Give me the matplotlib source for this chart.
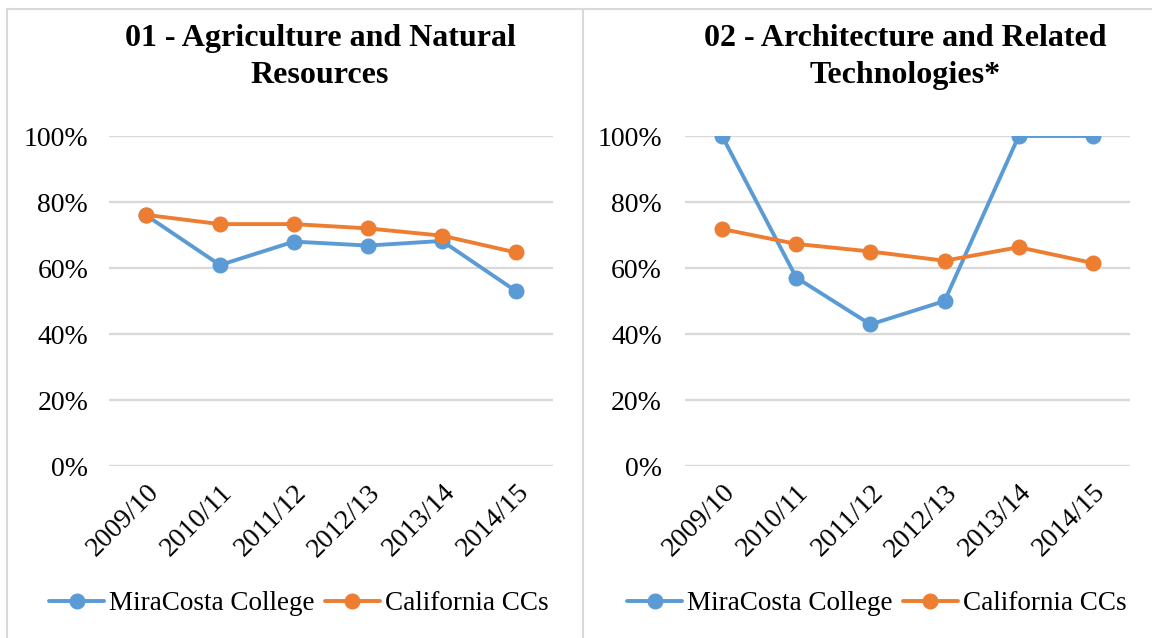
import matplotlib
matplotlib.use("Agg")
import matplotlib.pyplot as plt
from matplotlib.lines import Line2D
from matplotlib.ticker import PercentFormatter

plt.rcParams["font.family"] = ["Liberation Serif", "DejaVu Serif"]

years = ["2009/10", "2010/11", "2011/12", "2012/13", "2013/14", "2014/15"]
series_names = ["MiraCosta College", "California CCs"]

agri_title = "01 - Agriculture and Natural\nResources"
agri_miracosta = [0.76, 0.609, 0.680, 0.668, 0.682, 0.530]
agri_california = [0.761, 0.733, 0.733, 0.720, 0.698, 0.647]

arch_title = "02 - Architecture and Related\nTechnologies*"
arch_miracosta = [1.00, 0.571, 0.429, 0.50, 1.00, 1.00]
arch_california = [0.718, 0.673, 0.650, 0.622, 0.663, 0.615]

yticks = [0, 0.2, 0.4, 0.6, 0.8, 1.0]

BLUE = "#5B9BD5"
ORANGE = "#ED7D31"
GRID = "#D9D9D9"

W, H = 1152, 638
fig = plt.figure(figsize=(W / 100, H / 100), dpi=100)


def px_axes(x0, x1, y_top, y_bot):
    return fig.add_axes([x0 / W, (H - y_bot) / H, (x1 - x0) / W, (y_bot - y_top) / H])


def draw_panel(ax, title, title_x, legend_x, mira, calif, label_pad):
    x = list(range(len(years)))
    ax.plot(x, mira, color=BLUE, lw=2.8, marker="o", ms=10.5,
            solid_capstyle="round", label=series_names[0], zorder=3)
    ax.plot(x, calif, color=ORANGE, lw=2.8, marker="o", ms=10.5,
            solid_capstyle="round", label=series_names[1], zorder=3)
    ax.set_xlim(-0.5, len(years) - 0.5)
    ax.set_ylim(0, 1.0)
    ax.set_yticks(yticks)
    ax.yaxis.set_major_formatter(PercentFormatter(1.0, decimals=0))
    ax.grid(axis="y", color=GRID, lw=1.7, zorder=0)
    ax.set_axisbelow(True)
    for s in ax.spines.values():
        s.set_visible(False)
    ax.tick_params(axis="both", length=0, labelsize=20, colors="black")
    ax.tick_params(axis="y", pad=label_pad)
    ax.set_xticks(x)
    ax.set_xticklabels(years, rotation=45, ha="right", rotation_mode="anchor")
    ax.tick_params(axis="x", pad=10)
    ax.set_clip_on(False)
    fig.text(title_x / W, 1 - 57 / H, title, ha="center", va="center",
             fontsize=23, fontweight="bold", linespacing=1.32)
    fig.legend(handles=ax.get_lines(), loc="center",
               bbox_to_anchor=(legend_x / W, 1 - 604 / H),
               ncol=2, frameon=False, fontsize=19.5, handlelength=2.0,
               handletextpad=0.2, columnspacing=0.4, borderaxespad=0,
               borderpad=0)


ax1 = px_axes(109, 553, 136, 466)
draw_panel(ax1, agri_title, 320, 299, agri_miracosta, agri_california, 15)

ax2 = px_axes(685, 1130, 136, 466)
draw_panel(ax2, arch_title, 905, 877, arch_miracosta, arch_california, 16.5)

# panel borders
border = dict(color=GRID, lw=1.5, transform=fig.transFigure)
fig.add_artist(Line2D([7 / W, 1], [1 - 9 / H, 1 - 9 / H], **border))
fig.add_artist(Line2D([7 / W, 7 / W], [0, 1 - 9 / H], **border))
fig.add_artist(Line2D([583 / W, 583 / W], [0, 1 - 9 / H], **border))

fig.savefig("out.png", dpi=100)
